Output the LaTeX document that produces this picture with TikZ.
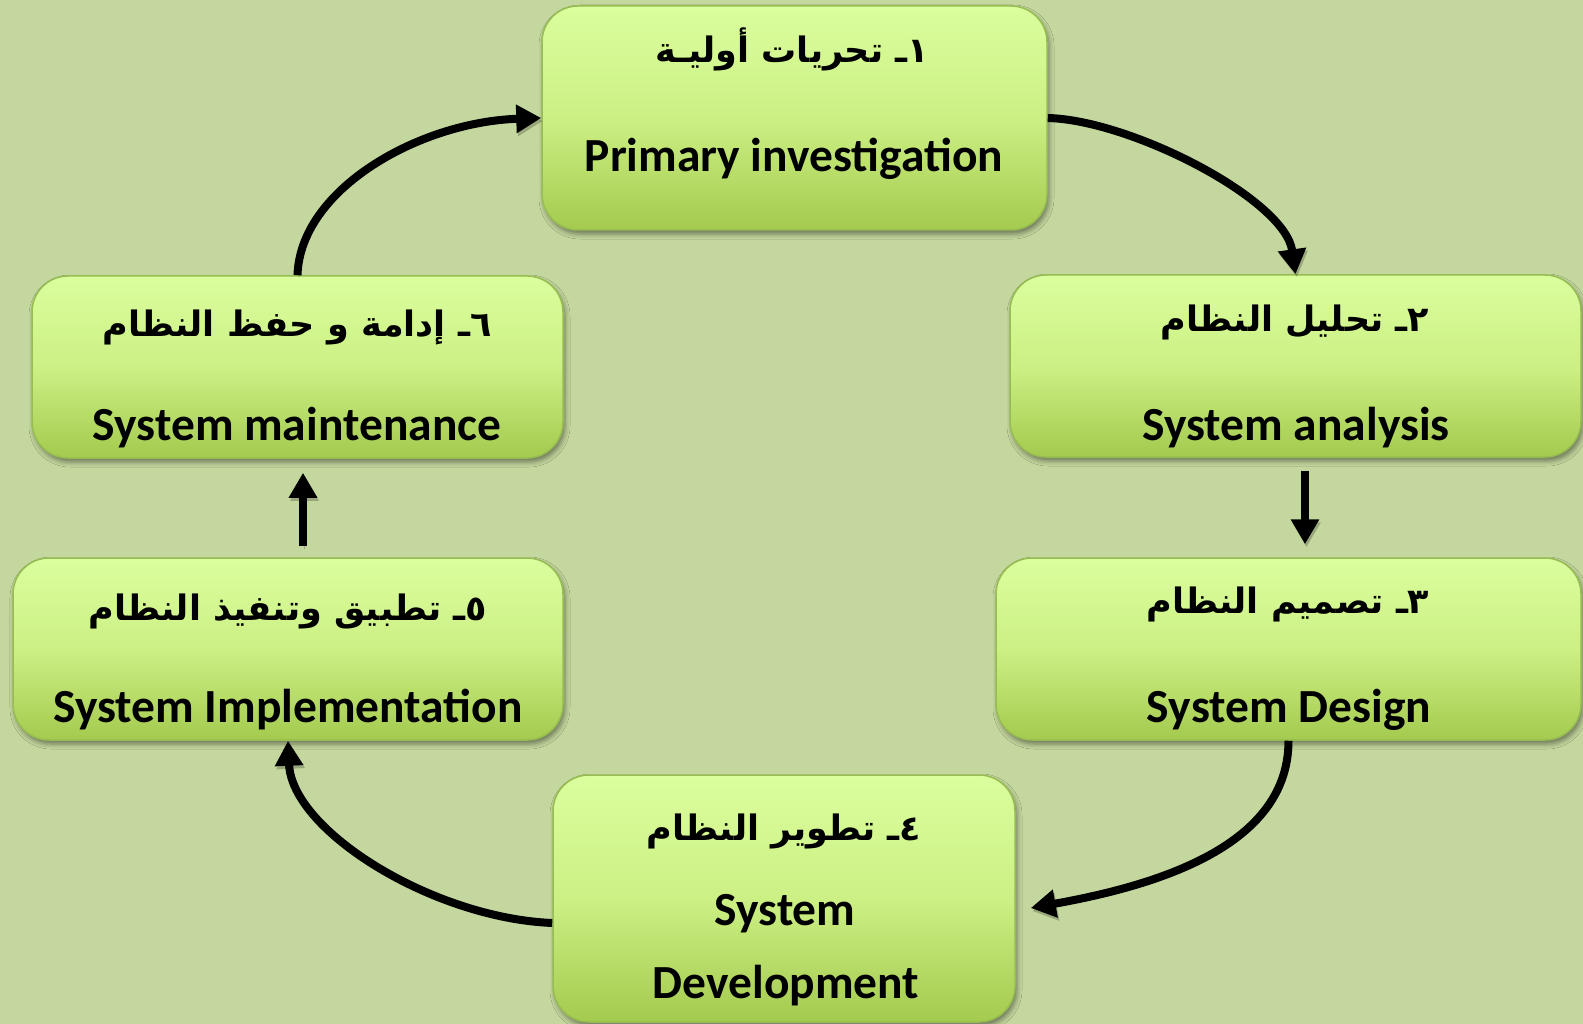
\documentclass[tikz,border=0pt]{standalone}
\usepackage{fontspec}
\setmainfont{Carlito}
\newfontfamily\arabicfont[Script=Arabic]{DejaVu Sans}
\TeXXeTstate=1
\usetikzlibrary{arrows.meta,calc,shadows.blur}
\definecolor{bg}{RGB}{196,215,158}
\definecolor{boxtop}{RGB}{219,254,158}
\definecolor{boxmid}{RGB}{204,240,132}
\definecolor{boxbot}{RGB}{164,202,78}
\definecolor{boxline}{RGB}{150,188,82}
\begin{document}
\begin{tikzpicture}[x=1pt,y=-1pt,
  box/.style={rounded corners=36pt, draw=boxline, line width=1.5pt,
    top color=boxtop, bottom color=boxbot, middle color=boxmid,
    blur shadow={shadow xshift=2pt, shadow yshift=-4pt, shadow blur radius=5pt, shadow opacity=45},
    inner sep=0pt},
  entext/.style={font=\bfseries\fontsize{47.5}{52}\selectfont, anchor=base, inner sep=0pt},
  artext/.style={font=\arabicfont\bfseries\fontsize{35}{40}\selectfont, anchor=base, inner sep=0pt},
  flow/.style={line width=8pt, -{Triangle[length=25pt,width=27pt]},
    preaction={draw=black, opacity=0.22, transform canvas={xshift=1.5pt,yshift=-3pt}}}]
\fill[bg] (0,0) rectangle (1583,1024);
\useasboundingbox (0,0) rectangle (1583,1024);

% boxes
\node[box, minimum width=505pt, minimum height=224pt] (b1) at (794.5,118) {};
\node[box, minimum width=571pt, minimum height=182pt] (b2) at (1295.5,366) {};
\node[box, minimum width=585pt, minimum height=182pt] (b3) at (1288.5,649) {};
\node[box, minimum width=462pt, minimum height=247pt] (b4) at (784,898.5) {};
\node[box, minimum width=550pt, minimum height=182pt] (b5) at (288,649) {};
\node[box, minimum width=531pt, minimum height=182pt] (b6) at (297.5,367) {};

% texts
\node[artext] (t1a) at (792,63) {\beginR ١ـ تحريات أوليـة\endR};
\node[entext] (t1e) at (794,172) {Primary investigation};
\node[artext] (t2a) at (1295,332) {\beginR ٢ـ تحليل النظام\endR};
\node[entext] (t2e) at (1296,440) {System analysis};
\node[artext] (t3a) at (1288,613) {\beginR ٣ـ تصميم النظام\endR};
\node[entext] (t3e) at (1289,722) {System Design};
\node[artext] (t4a) at (784,840) {\beginR ٤ـ تطوير النظام\endR};
\node[entext] (t4e) at (785,925) {System};
\node[entext] (t4f) at (786,998) {Development};
\node[artext] (t5a) at (288,620) {\beginR ٥ـ تطبيق وتنفيذ النظام\endR};
\node[entext] (t5e) at (288,722) {System Implementation};
\node[artext] (t6a) at (297,337) {\beginR ٦ـ إدامة و حفظ النظام\endR};
\node[entext] (t6e) at (297,440) {System maintenance};

% connectors
\draw[flow] (b1.east) .. controls +(83,2) and +(-10.5,-75) .. (b2.north);
\draw[flow] ($(b2.south)+(9.5,13)$) -- ($(b3.north)+(16.5,-13)$);
\draw[flow] (b3.south) .. controls +(0,100) and +(140,-25) .. ($(b4.east)+(15,9.5)$);
\draw[flow] ($(b4.west)+(0,24.5)$) .. controls +(-120,-5) and +(4,90) .. (b5.south);
\draw[flow] ($(b5.north)+(15,-11)$) -- ($(b6.south)+(5.5,14)$);
\draw[flow] (b6.north) .. controls +(2.5,-86) and +(-122,4) .. (b1.west);
\end{tikzpicture}
\end{document}
